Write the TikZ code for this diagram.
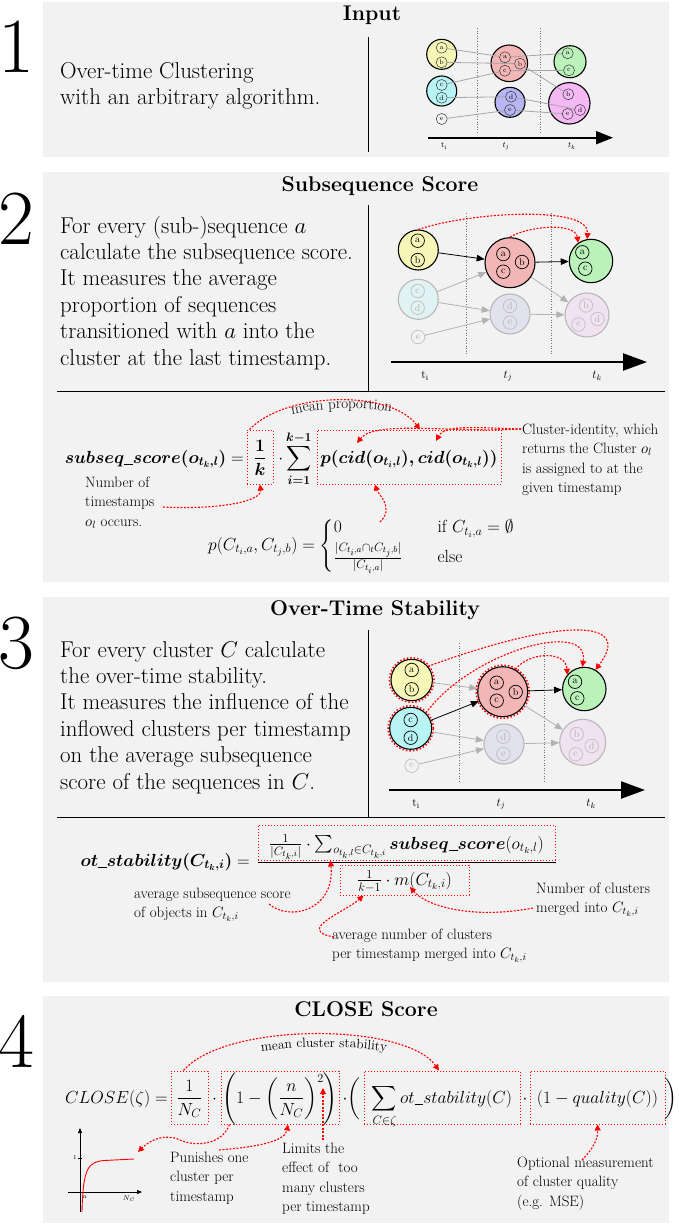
\RequirePackage{fix-cm}
\documentclass[tikz,border=0pt]{standalone}
\usepackage{amsmath,amssymb}
\usetikzlibrary{arrows.meta,calc,decorations.text}
\definecolor{panelbg}{RGB}{242,242,242}
\definecolor{cyel}{RGB}{246,246,182}
\definecolor{ccya}{RGB}{184,244,244}
\definecolor{cred}{RGB}{243,182,182}
\definecolor{cblu}{RGB}{182,182,242}
\definecolor{cgrn}{RGB}{186,242,186}
\definecolor{cmag}{RGB}{244,184,244}
\definecolor{fcya}{RGB}{224,242,242}
\definecolor{fblu}{RGB}{226,226,238}
\definecolor{fmag}{RGB}{240,226,240}
\newcommand{\lns}[1]{\begin{tabular}[t]{@{}l@{}}#1\end{tabular}}
\newcommand{\und}{\mbox{\rule[-1.8pt]{0.5em}{0.7pt}}}
\begin{document}
\begin{tikzpicture}[x=1pt,y=-1pt,
  body/.style={font=\fontsize{22.9}{26.4}\selectfont,inner sep=0pt,anchor=base west},
  ann/.style={font=\fontsize{15}{19.5}\selectfont,inner sep=0pt,anchor=base west},
  ttl/.style={font=\fontsize{21.3}{26}\selectfont\bfseries,inner sep=0pt,anchor=base},
  bignum/.style={font=\fontsize{78}{78}\selectfont,inner sep=0pt,anchor=base},
  fmath/.style={font=\fontsize{17.5}{21}\selectfont,inner sep=0pt},
  clu/.style={circle,draw=black,line width=1.1pt,inner sep=0pt},
  fclu/.style={circle,draw=black!28,line width=1.1pt,inner sep=0pt},
  smA/.style={circle,draw=black!80,line width=0.5pt,inner sep=0pt,minimum size=11pt,font=\fontsize{7}{7}\selectfont},
  smB/.style={circle,draw=black,line width=0.7pt,inner sep=0pt,minimum size=13.5pt,font=\fontsize{10}{10}\selectfont},
  fsm/.style={smB,draw=black!25,text=black!30},
  link/.style={draw=black!35,line width=0.8pt},
  barr/.style={draw=black,line width=0.8pt,-{Triangle[length=8pt,width=6.5pt]}},
  garr/.style={draw=black!30,line width=0.8pt,-{Triangle[length=8pt,width=6.5pt]}},
  tdot/.style={black!55,line width=0.6pt,dotted},
  tlab/.style={font=\fontsize{12}{12}\selectfont,inner sep=0pt},
  rarr/.style={red,line width=1.1pt,dash pattern=on 2pt off 1.5pt,-{Triangle[length=6pt,width=6pt]}},
  rbox/.style={draw=red,line width=1pt,dotted,inner sep=0pt},
  rring/.style={red,line width=1.5pt,dotted},
  divl/.style={line width=0.9pt},
]
\useasboundingbox (0,0) rectangle (678,1227);

%================ PANEL 1 =================
\fill[panelbg] (43,2) rectangle (669,157);
\node[bignum] (n1) at (16,72) {1};
\node[ttl] (t1) at (372,20) {Input};
\node[body] (x1) at (60,78) {\lns{Over-time Clustering\\with an arbitrary algorithm.}};
\draw[divl] (368,37) -- (368,152);
\draw[tdot] (477.3,28) -- (477.3,133);
\draw[tdot] (540.7,28) -- (540.7,133);
\node[clu,fill=cyel,minimum size=30pt] (Y1) at (441.7,54.3) {};
\node[clu,fill=ccya,minimum size=30pt] (C1) at (441.7,91) {};
\node[clu,fill=cred,minimum size=36.6pt] (R1) at (509.3,63.3) {};
\node[clu,fill=cblu,minimum size=30pt] (B1) at (510,102.3) {};
\node[clu,fill=cgrn,minimum size=32pt] (G1) at (570,61.7) {};
\node[clu,fill=cmag,minimum size=41.4pt] (M1) at (569.3,103.3) {};
\node[smA] (Y1a) at (441.7,47.7) {a};
\node[smA] (Y1b) at (441.7,62.3) {b};
\node[smA] (C1c) at (441.7,85) {c};
\node[smA] (C1d) at (441.7,97.7) {d};
\node[smA] (E1) at (441.7,119) {e};
\node[smA] (R1a) at (505,57.3) {a};
\node[smA] (R1b) at (520,63.7) {b};
\node[smA] (R1c) at (505,70.7) {c};
\node[smA] (B1d) at (511,96.7) {d};
\node[smA] (B1e) at (510,110) {e};
\node[smA] (G1a) at (567.7,53.3) {a};
\node[smA] (G1c) at (569,70.3) {c};
\node[smA] (M1b) at (568.3,94.3) {b};
\node[smA] (M1d) at (580,110) {d};
\node[smA] (M1e) at (567.7,114) {e};
\draw[link] (Y1a) -- (R1a);
\draw[link] (Y1b) -- (R1b);
\draw[link] (C1c) -- (R1c);
\draw[link] (C1d) -- (B1d);
\draw[link] (E1) -- (B1e);
\draw[link] (R1a) -- (G1a);
\draw[link] (R1c) -- (G1c);
\draw[link] (R1b) -- (M1b);
\draw[link] (B1d) -- (M1d);
\draw[link] (B1e) -- (M1e);
\coordinate (a1s) at (428,137.7);
\coordinate (a1e) at (613,137.7);
\draw[line width=1.8pt,-{Triangle[length=17pt,width=13pt]}] (a1s) -- (a1e);
\node[font=\fontsize{8}{8}\selectfont,inner sep=0pt] (ti1) at (444,146) {$\mathrm{t_i}$};
\node[font=\fontsize{8}{8}\selectfont,inner sep=0pt] (tj1) at (506,146) {$t_j$};
\node[font=\fontsize{8}{8}\selectfont,inner sep=0pt] (tk1) at (572,146) {$t_k$};

%================ PANEL 2 =================
\fill[panelbg] (43,172) rectangle (669,582);
\node[bignum] (n2) at (16,244) {2};
\node[ttl] (t2) at (380,191) {Subsequence Score};
\node[body] (x2) at (60,233) {\lns{For every (sub-)sequence $a$\\calculate the subsequence score.\\It measures the average\\proportion of sequences\\transitioned with $a$ into the\\cluster at the last timestamp.}};
\draw[divl] (368,205) -- (368,391);
\draw[divl] (57,391) -- (665,391);
\draw[tdot] (466,213) -- (466,356);
\draw[tdot] (551.7,213) -- (551.7,356);
\node[clu,fill=cyel,minimum size=40pt] (Y2) at (418.3,250) {};
\node[clu,fill=cred,minimum size=50pt] (R2) at (510,262.7) {};
\node[clu,fill=cgrn,minimum size=43.4pt] (G2) at (591,261) {};
\node[fclu,fill=fcya,minimum size=40pt] (C2) at (418.3,299.3) {};
\node[fclu,fill=fblu,minimum size=40pt] (B2) at (510,314) {};
\node[fclu,fill=fmag,minimum size=44pt] (M2) at (587,315) {};
\node[smB] (Y2a) at (417.7,240.7) {a};
\node[smB] (Y2b) at (417.7,260) {b};
\node[smB] (R2a) at (503.3,254) {a};
\node[smB] (R2b) at (522,262) {b};
\node[smB] (R2c) at (503.3,271.7) {c};
\node[smB] (G2a) at (582.3,252.3) {a};
\node[smB] (G2c) at (585.3,268.7) {c};
\node[fsm] (C2c) at (417.7,291) {c};
\node[fsm] (C2d) at (417.7,307.7) {d};
\node[fsm] (B2d) at (510,306) {d};
\node[fsm] (B2e) at (510,322.5) {e};
\node[fsm] (M2b) at (586,305.5) {b};
\node[fsm] (M2d) at (597.5,319) {d};
\node[fsm] (M2e) at (578.5,324.5) {e};
\node[fsm] (E2) at (418,337) {e};
\draw[barr] (Y2) -- (R2);
\draw[barr] (R2) -- (G2);
\draw[garr] (C2) -- (R2);
\draw[garr] (C2) -- (B2);
\draw[garr] (E2) -- (B2);
\draw[garr] (R2) -- (M2);
\draw[garr] (B2) -- (M2);
\draw[rarr] (Y2.north) .. controls (470,212) and (590,205) .. (G2.100);
\draw[rarr] (R2.north) .. controls (528,226) and (575,222) .. (G2.125);
\coordinate (a2s) at (391,362);
\coordinate (a2e) at (647,362);
\draw[line width=2.4pt,-{Triangle[length=24pt,width=17pt]}] (a2s) -- (a2e);
\node[tlab] (ti2) at (425,376) {$\mathrm{t_i}$};
\node[tlab] (tj2) at (508,376) {$t_j$};
\node[tlab] (tk2) at (597,376) {$t_k$};

% formula 2
\node[fmath,anchor=base east] (sslhs) at (244,463) {$\boldsymbol{subseq\und score(o_{t_k,l})}=$};
\node[rbox,minimum width=26pt,minimum height=54pt] (ssk) at (260,457) {};
\node[fmath,anchor=base] (sskf) at (260,463) {$\displaystyle\frac{\boldsymbol{1}}{\boldsymbol{k}}$};
\node[fmath,anchor=base] (sssum) at (295,463) {$\cdot\displaystyle\sum_{\boldsymbol{i=1}}^{\boldsymbol{k-1}}$};
\node[rbox,minimum width=184pt,minimum height=54pt] (ssp) at (409,457) {};
\node[fmath,anchor=base] (sspf) at (409,463) {$\boldsymbol{p(cid(o_{t_i,l}),cid(o_{t_k,l}))}$};
\path[decorate,decoration={text along path,text align=center,text={|\fontsize{15}{17}\selectfont|mean proportion}}] (270,422) .. controls (298,406) and (380,404) .. (414,418);
\draw[rarr] ([xshift=3pt]ssk.north west) .. controls (285,392) and (390,389) .. ($(ssp.north)+(11,0)$);
\node[ann] (cidt) at (522,434) {\lns{Cluster-identity, which\\returns the Cluster $o_l$\\is assigned to at the\\given timestamp}};
\coordinate (cids) at (521,429);
\coordinate (cid1) at (357,443);
\coordinate (cid2) at (436,441);
\draw[rarr] (cids) .. controls (480,428) and (445,424) .. (cid2);
\draw[rarr] (cids) .. controls (450,433) and (375,420) .. (cid1);
\node[ann] (nts) at (85,487) {\lns{Number of\\timestamps\\$o_l$ occurs.}};
\coordinate (ntsa) at (163,507);
\draw[rarr] (ntsa) .. controls (225,510) and (262,500) .. (ssk.south);
\node[fmath,anchor=base west] (pf) at (208,550) {$p(C_{t_i,a},C_{t_j,b}) = \left\{\begin{array}{@{}l@{\qquad}l@{}} 0 & \mbox{if } C_{t_i,a}=\emptyset\\[3pt] \frac{|C_{t_i,a}\cap_t C_{t_j,b}|}{|C_{t_i,a}|} & \mbox{else}\end{array}\right.$};
\coordinate (pfa) at (380,522);
\draw[rarr] (pfa) .. controls (395,508) and (378,494) .. ($(ssp.south)+(-34,0)$);

%================ PANEL 3 =================
\fill[panelbg] (43,597) rectangle (669,982);
\node[bignum] (n3) at (16,668) {3};
\node[ttl] (t3) at (375,615) {Over-Time Stability};
\node[body] (x3) at (60,657) {\lns{For every cluster $C$ calculate\\the over-time stability.\\It measures the influence of the\\inflowed clusters per timestamp\\on the average subsequence\\score of the sequences in $C$.}};
\draw[divl] (368,630) -- (368,817);
\draw[divl] (57,817) -- (665,817);
\draw[tdot] (459.3,643) -- (459.3,783);
\draw[tdot] (544,643) -- (544,783);
\node[clu,fill=cyel,minimum size=41.4pt] (Y3) at (411.7,680) {};
\node[clu,fill=ccya,minimum size=42pt] (C3) at (410.7,728.3) {};
\node[clu,fill=cred,minimum size=50pt] (R3) at (502.7,691.7) {};
\node[clu,fill=cgrn,minimum size=43.4pt] (G3) at (584.3,689) {};
\node[fclu,fill=fblu,minimum size=40pt] (B3) at (504,744) {};
\node[fclu,fill=fmag,minimum size=46pt] (M3) at (582.7,742.3) {};
\draw[rring] (Y3.center) circle[radius=22.3pt];
\draw[rring] (C3.center) circle[radius=22.6pt];
\draw[rring] (R3.center) circle[radius=26.6pt];
\node[smB] (Y3a) at (411.7,670) {a};
\node[smB] (Y3b) at (411.7,689.3) {b};
\node[smB] (C3c) at (410.7,720) {c};
\node[smB] (C3d) at (410.7,737.7) {d};
\node[fsm] (E3) at (411.7,765.7) {e};
\node[smB] (R3a) at (496.7,682.7) {a};
\node[smB] (R3b) at (515.7,692) {b};
\node[smB] (R3c) at (496.7,700.7) {c};
\node[smB] (G3a) at (575,681.7) {a};
\node[smB] (G3c) at (577.3,698.3) {c};
\node[fsm] (B3d) at (503.3,736.7) {d};
\node[fsm] (B3e) at (503.3,754) {e};
\node[fsm] (M3b) at (576.7,734) {b};
\node[fsm] (M3d) at (591.7,746) {d};
\node[fsm] (M3e) at (575.7,754.3) {e};
\draw[garr] (Y3) -- (R3);
\draw[barr] (C3) -- (R3);
\draw[garr] (C3) -- (B3);
\draw[garr] (E3) -- (B3);
\draw[barr] (R3) -- (G3);
\draw[garr] (R3) -- (M3);
\draw[garr] (B3) -- (M3);
\draw[rarr] (R3.60) .. controls (528,652) and (566,650) .. (G3.140);
\draw[rarr] (C3.45) .. controls (470,652) and (590,618) .. (G3.95);
\draw[rarr] (Y3.40) .. controls (560,618) and (635,618) .. (G3.60);
\coordinate (a3s) at (389,790);
\coordinate (a3e) at (645,790);
\draw[line width=2.4pt,-{Triangle[length=24pt,width=17pt]}] (a3s) -- (a3e);
\node[tlab] (ti3) at (416,804) {$\mathrm{t_i}$};
\node[tlab] (tj3) at (501,804) {$t_j$};
\node[tlab] (tk3) at (591,804) {$t_k$};

% formula 3
\node[fmath,anchor=base east] (oslhs) at (250,866) {$\boldsymbol{ot\und stability(C_{t_k,i})}=$};
\node[rbox,minimum width=297pt,minimum height=35pt] (osn) at (406.5,842.5) {};
\node[fmath,anchor=base] (osnf) at (406.5,849) {$\frac{1}{|C_{t_k,i}|}\cdot\sum_{o_{t_k,l}\in C_{t_k,i}}\boldsymbol{subseq\und score}(o_{t_k,l})$};
\draw[line width=0.9pt] ([yshift=-2pt]osn.south west) -- ([yshift=-2pt]osn.south east);
\node[rbox,minimum width=129pt,minimum height=30pt] (osd) at (404.5,880) {};
\node[fmath,anchor=base] (osdf) at (404.5,885) {$\frac{1}{k-1}\cdot m(C_{t_k,i})$};
\node[ann] (avs) at (134,898) {\lns{average subsequence score\\of objects in $C_{t_k,i}$}};
\node[ann] (noc) at (536,893) {\lns{Number of clusters\\merged into $C_{t_k,i}$}};
\node[ann] (anc) at (332,939) {\lns{average number of clusters\\per timestamp merged into $C_{t_k,i}$}};
\coordinate (avsa) at (269,904);
\draw[rarr] (avsa) .. controls (290,922) and (335,910) .. ($(osn.south west)+(73,0)$);
\coordinate (noca) at (533,908);
\coordinate (mC) at (410,887);
\draw[rarr] (noca) .. controls (470,920) and (425,905) .. (mC);
\coordinate (anca) at (334,937);
\draw[rarr] (anca) .. controls (295,930) and (345,912) .. ($(osd.south west)+(24,0)$);

%================ PANEL 4 =================
\fill[panelbg] (43,996) rectangle (669,1223);
\node[bignum] (n4) at (16,1067) {4};
\node[ttl] (t4) at (366,1016) {CLOSE Score};
\node[fmath,anchor=base east] (cllhs) at (168,1103) {$CLOSE(\zeta)=$};
\node[rbox,minimum width=37pt,minimum height=53pt] (cb1) at (189.5,1097.5) {};
\node[fmath,anchor=base] (cb1f) at (189.5,1103) {$\displaystyle\frac{1}{N_C}$};
\node[fmath,anchor=base] (cdot1) at (214.5,1103) {$\cdot$};
\node[rbox,minimum width=118pt,minimum height=53pt] (cb2) at (280,1097.5) {};
\node[fmath,anchor=base] (cb2f) at (280,1103) {$\displaystyle\left(1-\left(\frac{n}{N_C}\right)^{2}\right)$};
\node[fmath,anchor=base] (cmid) at (351.5,1103) {$\cdot\biggl($};
\node[rbox,minimum width=156pt,minimum height=53pt] (cb3) at (442,1097.5) {};
\node[fmath,anchor=base] (cb3f) at (442,1103) {$\displaystyle\sum_{C\in\zeta} ot\und stability(C)$};
\node[fmath,anchor=base] (cdot3) at (525,1103) {$\cdot$};
\node[rbox,minimum width=135pt,minimum height=53pt] (cb4) at (597.5,1097.5) {};
\node[fmath,anchor=base] (cb4f) at (597.5,1103) {$(1-quality(C))$};
\node[fmath,anchor=base west] (cend) at (664,1103) {$\biggr)$};
\draw[rarr] ([xshift=-6pt]cb1.north) .. controls (225,1022) and (405,1022) .. ($(cb3.north)+(-3,0)$);
\path[decorate,decoration={text along path,text align=center,text={|\fontsize{13.5}{15}\selectfont|mean cluster stability}}] (212,1066) .. controls (254,1041) and (392,1041) .. (436,1066);
\node[ann] (pun) at (170,1162) {\lns{Punishes one\\cluster per\\timestamp}};
\node[ann] (lim) at (282,1153) {\lns{Limits the\\effect of\ \ too\\many clusters\\per timestamp}};
\node[ann] (opt) at (517,1167) {\lns{Optional measurement\\of cluster quality\\(e.g. MSE)}};
\coordinate (lima) at (323,1140);
\coordinate (exp2) at (323,1088);
\draw[rarr] (lima) -- (exp2);
\coordinate (pltar) at (138,1152);
\draw[rarr] ([xshift=9pt]cb2.south west) .. controls (222,1145) and (195,1147) .. (180,1140) .. controls (165,1133) and (150,1140) .. (pltar);
\coordinate (puna) at (219,1150);
\draw[rarr] (puna) .. controls (255,1147) and (285,1142) .. ($(cb2.south)+(8,0)$);
\coordinate (opta) at (582,1160);
\draw[rarr] (opta) .. controls (594,1148) and (598,1138) .. (cb4.south);
% small plot
\coordinate (py0) at (80,1212);
\coordinate (py1) at (80,1128);
\coordinate (px0) at (68,1192);
\coordinate (px1) at (142,1192);
\draw[line width=0.6pt,-{Triangle[length=5pt,width=4pt]}] (py0) -- (py1);
\draw[line width=0.6pt,-{Triangle[length=5pt,width=4pt]}] (px0) -- (px1);
\draw[line width=0.5pt] (78,1158) -- (82,1158);
\node[font=\fontsize{6}{6}\selectfont,inner sep=0pt,anchor=east] (one) at (77,1157) {1};
\node[font=\fontsize{6}{6}\selectfont,inner sep=0pt] (nn) at (85,1197) {n};
\node[font=\fontsize{7}{7}\selectfont,inner sep=0pt] (ncl) at (129,1199) {$N_C$};
\draw[red,line width=0.9pt] (82,1212) .. controls (83,1168) and (88,1162) .. (104,1160.5) -- (134,1159);
\end{tikzpicture}
\end{document}
